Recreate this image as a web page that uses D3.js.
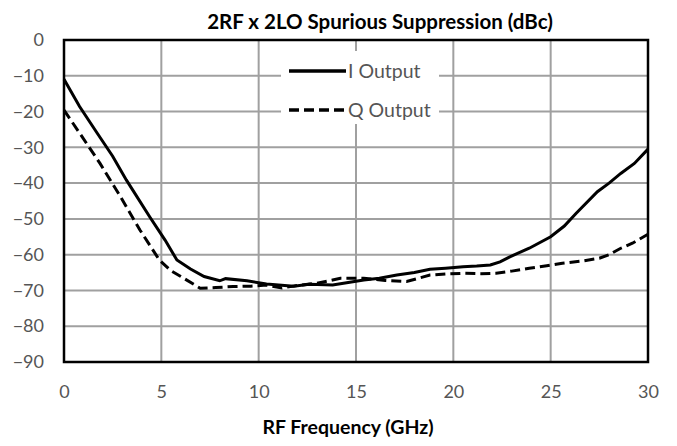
<!DOCTYPE html>
<html><head><meta charset="utf-8">
<script src="https://cdn.jsdelivr.net/npm/d3@7"></script>
<style>body{margin:0;background:#fff;} svg{display:block;}</style>
</head><body>
<div id="chart"></div>
<script>
const chartTitle = "2RF x 2LO Spurious Suppression (dBc)";
const xTitle = "RF Frequency (GHz)";
const seriesNames = ["I Output", "Q Output"];
const xTicks = [0, 5, 10, 15, 20, 25, 30];
const yTicks = [0, -10, -20, -30, -40, -50, -60, -70, -80, -90];

const iFreq = [0, 0.8, 1.7, 2.5, 3.2, 4.4, 5.2, 5.8, 6.5, 7.2, 8.0, 8.3, 9.4, 10.4, 11.8, 12.6, 13.8, 14.6, 15.4, 16.2, 17.1, 18.0, 18.8, 19.6, 20.5, 21.2, 21.9, 22.4, 22.9, 23.9, 25.0, 25.7, 26.3, 27.4, 28.0, 28.6, 29.3, 30];
const iVals = [-11, -18.6, -26, -32.5, -39.1, -49.4, -56, -61.5, -64, -66.1, -67.3, -66.7, -67.3, -68.2, -68.8, -68.3, -68.5, -67.8, -67.1, -66.6, -65.7, -65, -64.1, -63.8, -63.4, -63.2, -62.9, -62, -60.6, -58.2, -55, -52, -48.5, -42.4, -40, -37.3, -34.5, -30.5];

const qFreq = [0, 0.8, 1.85, 2.9, 3.9, 4.9, 5.5, 6.0, 7.0, 7.8, 8.7, 9.6, 10.4, 11.2, 12.0, 13.0, 13.8, 14.2, 15.4, 16.5, 17.6, 18.8, 19.6, 20.5, 21.4, 22.2, 23.0, 23.9, 24.8, 25.6, 26.6, 27.5, 28.0, 28.6, 29.2, 30];
const qVals = [-19.6, -26, -34.5, -43.8, -53.1, -61.5, -64.5, -66.1, -69.4, -69.2, -68.9, -68.8, -68.5, -69.3, -68.6, -68, -67.1, -66.6, -66.6, -67.2, -67.5, -65.7, -65.4, -65.2, -65.3, -65.2, -64.6, -63.8, -63.1, -62.4, -61.8, -61, -60, -58.2, -56.8, -54.3];

const W = 677, H = 446;
const m = {left: 64, right: 29, top: 40, bottom: 84};
const svg = d3.select("#chart").append("svg").attr("width", W).attr("height", H);
const x = d3.scaleLinear().domain([0, 30]).range([m.left, W - m.right]);
const y = d3.scaleLinear().domain([-90, 0]).range([H - m.bottom, m.top]);
const font = "Lato, 'Open Sans', sans-serif";

// gridlines
const grid = svg.append("g");
grid.selectAll(".gx").data(xTicks.slice(1, -1)).join("line")
  .attr("x1", d => x(d)).attr("x2", d => x(d)).attr("y1", y(0)).attr("y2", y(-90))
  .attr("stroke", "#a0a0a0").attr("stroke-width", 2);
grid.selectAll(".gy").data(yTicks.slice(1, -1)).join("line")
  .attr("x1", x(0)).attr("x2", x(30)).attr("y1", d => y(d)).attr("y2", d => y(d))
  .attr("stroke", "#a0a0a0").attr("stroke-width", 2);

// axes (labels only)
const xAxis = svg.append("g").attr("transform", `translate(0,${y(-90)})`)
  .call(d3.axisBottom(x).tickValues(xTicks).tickSize(0).tickPadding(23));
const yAxis = svg.append("g").attr("transform", `translate(${x(0)},0)`)
  .call(d3.axisLeft(y).tickValues(yTicks).tickSize(0).tickPadding(20).tickFormat(d3.format("d")));
[xAxis, yAxis].forEach(a => {
  a.select(".domain").remove();
  a.selectAll("text").attr("font-family", font).attr("font-size", 18).attr("fill", "#555");
});

// lines
const line = d3.line().x(d => x(d[0])).y(d => y(d[1])).curve(d3.curveLinear);
const iData = iFreq.map((f, k) => [f, iVals[k]]);
const qData = qFreq.map((f, k) => [f, qVals[k]]);
svg.append("path").datum(qData).attr("d", line).attr("fill", "none")
  .attr("stroke", "#000").attr("stroke-width", 3).attr("stroke-dasharray", "10,5");
svg.append("path").datum(iData).attr("d", line).attr("fill", "none")
  .attr("stroke", "#000").attr("stroke-width", 3);

// frame
svg.append("rect").attr("x", x(0)).attr("y", y(0)).attr("width", x(30) - x(0)).attr("height", y(-90) - y(0))
  .attr("fill", "none").attr("stroke", "#000").attr("stroke-width", 2.5);

// legend
const lg = svg.append("g");
lg.append("rect").attr("x", 281).attr("y", 51).attr("width", 158).attr("height", 73).attr("fill", "#fff");
const ly = [71, 110];
seriesNames.forEach((n, k) => {
  lg.append("line").attr("x1", 289).attr("x2", 346).attr("y1", ly[k]).attr("y2", ly[k])
    .attr("stroke", "#000").attr("stroke-width", 3.5).attr("stroke-dasharray", k ? "10,5" : null);
  lg.append("text").attr("x", 348).attr("y", ly[k]).attr("dy", "0.35em")
    .attr("font-family", font).attr("font-size", 19.5).attr("fill", "#555").text(n);
});

// titles
svg.append("text").attr("x", 380).attr("y", 22).attr("dy", "0.35em").attr("text-anchor", "middle")
  .attr("font-family", font).attr("font-weight", "bold").attr("font-size", 20.5).attr("fill", "#000").text(chartTitle);
svg.append("text").attr("x", 348).attr("y", 427).attr("dy", "0.35em").attr("text-anchor", "middle")
  .attr("font-family", font).attr("font-weight", "bold").attr("font-size", 19.5).attr("fill", "#000").text(xTitle);
</script>
</body></html>
